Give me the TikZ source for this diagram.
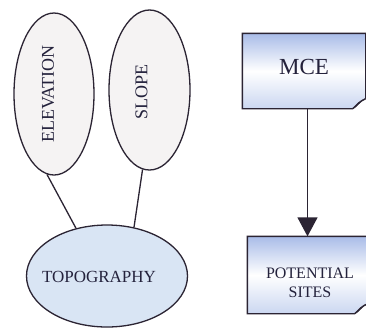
\documentclass[tikz,border=0pt]{standalone}
\usepackage{fontspec}
\setmainfont{Liberation Serif}
\usetikzlibrary{shapes.geometric,arrows.meta}
\definecolor{ink}{HTML}{2B2433}
\definecolor{txt}{HTML}{24223C}
\definecolor{pale}{HTML}{F5F3F3}
\definecolor{topo}{HTML}{D9E5F4}
\definecolor{boxtop}{HTML}{A9BCE8}
\definecolor{boxbot}{HTML}{CBD7F1}

% page with a folded lower-right corner, drawn over a node's frame
\newcommand{\foldpage}[1]{%
  \path[draw=ink, line width=1.3pt, top color=boxtop, bottom color=boxbot, middle color=white]
    (#1.north west) -- (#1.north east) -- ([yshift=10pt]#1.south east)
    .. controls ([xshift=-6pt,yshift=8pt]#1.south east) and ([xshift=-9pt,yshift=2pt]#1.south east)
    .. ([xshift=-13pt]#1.south east) -- (#1.south west) -- cycle;
  \draw[ink, line width=1pt, fill=white]
    ([yshift=10pt]#1.south east) -- ([xshift=-7pt,yshift=6pt]#1.south east)
    -- ([xshift=-13pt]#1.south east)
    .. controls ([xshift=-9pt,yshift=2pt]#1.south east) and ([xshift=-6pt,yshift=8pt]#1.south east)
    .. cycle;
}

\begin{document}
\begin{tikzpicture}[x=1pt, y=-1pt,
  line width=1.3pt,
  oval/.style={ellipse, draw=ink, inner sep=0pt},
  frame/.style={rectangle, inner sep=0pt},
  caption/.style={text=txt, align=center},
  link/.style={draw=ink, line width=1.3pt},
  arrowlink/.style={link, -{Triangle[width=20pt,length=19pt]}}]
\useasboundingbox (0,0) rectangle (366,330);
\fill[white] (0,0) rectangle (366,330);

% topography parameters
\node[oval, fill=pale, minimum width=80pt, minimum height=162pt,
  label={[caption, xshift=-6pt, font=\fontsize{18}{20}\selectfont]center:\rotatebox{90}{ELEVATION}}]
  (elev) at (54,94) {};
\node[oval, fill=pale, minimum width=81pt, minimum height=160pt,
  label={[caption, xshift=-8pt, yshift=-2pt, font=\fontsize{18}{20}\selectfont]center:\rotatebox{90}{SLOPE}}]
  (slope) at (149.5,90) {};
\node[oval, fill=topo, minimum width=161pt, minimum height=102pt,
  label={[caption, xshift=-8pt, yshift=-1pt, font=\fontsize{17}{19}\selectfont]center:TOPOGRAPHY}]
  (topo) at (107,276) {};

\draw[link] (elev.-95) -- (topo.123);
\draw[link] (slope.-95) -- (topo.61);

% analysis chain
\node[frame, minimum width=122pt, minimum height=74pt] (mce) at (304,71) {};
\node[frame, minimum width=119pt, minimum height=76pt] (ps) at (307.5,275) {};
\foldpage{mce}
\foldpage{ps}
\node[caption, font=\fontsize{23}{26}\selectfont, yshift=4pt] at (mce.center) {MCE};
\node[caption, font=\fontsize{16}{19.5}\selectfont, xshift=2.5pt, yshift=-8pt] at (ps.center) {POTENTIAL\\SITES};

\draw[arrowlink] (ps.north |- mce.south) -- (ps.north);
\end{tikzpicture}
\end{document}
